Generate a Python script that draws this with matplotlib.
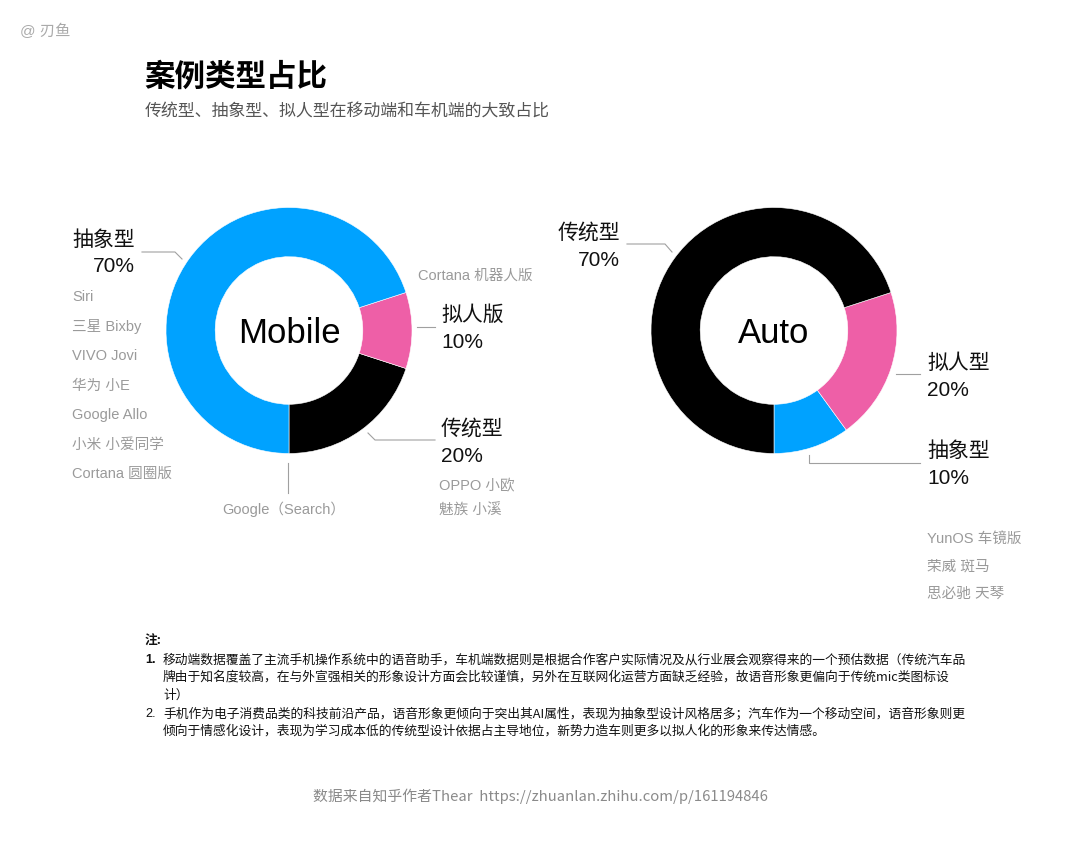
import matplotlib.pyplot as plt

types = ['传统型', '抽象型', '拟人型']
mobile_share = [20, 70, 10]
auto_share = [70, 10, 20]
# wedge order, counter-clockwise starting at 6 o'clock
mobile_order = ['传统型', '拟人型', '抽象型']
auto_order = ['抽象型', '拟人型', '传统型']
mobile_names = ['传统型', '抽象型', '拟人版']
auto_names = ['传统型', '抽象型', '拟人型']

mobile_abstract = ['Siri', '三星 Bixby', 'VIVO Jovi', '华为 小E', 'Google Allo', '小米 小爱同学', 'Cortana 圆圈版']
mobile_human = ['Cortana 机器人版']
mobile_traditional = ['OPPO 小欧', '魅族 小溪']
mobile_bottom = 'Google（Search）'
auto_abstract = ['YunOS 车镜版', '荣威 斑马', '思必驰 天琴']

notes = [
    ('1.', ['移动端数据覆盖了主流手机操作系统中的语音助手，车机端数据则是根据合作客户实际情况及从行业展会观察得来的一个预估数据（传统汽车品',
            '牌由于知名度较高，在与外宣强相关的形象设计方面会比较谨慎，另外在互联网化运营方面缺乏经验，故语音形象更偏向于传统mic类图标设',
            '计）']),
    ('2.', ['手机作为电子消费品类的科技前沿产品，语音形象更倾向于突出其AI属性，表现为抽象型设计风格居多；汽车作为一个移动空间，语音形象则更',
            '倾向于情感化设计，表现为学习成本低的传统型设计依据占主导地位，新势力造车则更多以拟人化的形象来传达情感。']),
]

colors = {'传统型': '#000000', '抽象型': '#00a2ff', '拟人型': '#ee5fa7'}

CJK = ['Noto Sans CJK SC', 'DejaVu Sans']
LAT = ['Liberation Sans', 'Noto Sans CJK SC', 'DejaVu Sans']
plt.rcParams['font.family'] = CJK

W, H = 1080, 844
fig = plt.figure(figsize=(W / 100, H / 100), dpi=100)
fig.patch.set_facecolor('white')

# overlay axes in pixel coordinates (y down)
ax = fig.add_axes([0, 0, 1, 1])
ax.set_xlim(0, W)
ax.set_ylim(H, 0)
ax.axis('off')
ax.patch.set_alpha(0)


def donut(cx, cy, r, shares, order, title):
    pa = fig.add_axes([(cx - r) / W, (H - cy - r) / H, 2 * r / W, 2 * r / H])
    vals = [shares[types.index(t)] for t in order]
    pa.pie(vals, colors=[colors[t] for t in order], startangle=-90, counterclock=True,
           radius=1, wedgeprops=dict(width=0.4, edgecolor='white', linewidth=0.4))
    pa.set_xlim(-1, 1)
    pa.set_ylim(-1, 1)
    pa.axis('off')
    pa.text(0, -0.1, title, ha='center', va='baseline', fontsize=25, family=LAT, color='black')


donut(289, 330.5, 123, mobile_share, mobile_order, 'Mobile')
donut(774, 330.5, 123, auto_share, auto_order, 'Auto')

grey = '#9a9a9a'
line_c = '#a0a0a0'
dark = '#111111'


def big(x, y, name, share, ha):
    ax.text(x, y, name, ha=ha, va='center', fontsize=15, color=dark, family=CJK)
    ax.text(x, y + 27, f'{share}%', ha=ha, va='center', fontsize=15, color=dark, family=LAT)


def small(x, y, s, ha='left'):
    ax.text(x, y, s, ha=ha, va='center', fontsize=10.5, color=grey, family=LAT)


# header
ax.text(20, 31, '@ 刃鱼', ha='left', va='center', fontsize=11, color='#aaaaaa', family=LAT)
ax.text(144, 77, '案例类型占比', ha='left', va='center', fontsize=22, fontweight='bold', color='black')
ax.text(145, 111, '传统型、抽象型、拟人型在移动端和车机端的大致占比', ha='left', va='center',
        fontsize=12.2, color='#555555')

# Mobile labels
big(135, 240, mobile_names[1], mobile_share[1], 'right')
ax.plot([142, 175, 182], [252, 252, 259], color=line_c, lw=0.8)
for i, s in enumerate(mobile_abstract):
    small(72, 297 + i * 29.5, s)

small(418, 276, mobile_human[0])
big(441, 315, mobile_names[2], mobile_share[2], 'left')
ax.plot([417, 435], [327, 327], color=line_c, lw=0.8)

big(441, 429, mobile_names[0], mobile_share[0], 'left')
ax.plot([368, 375, 435], [433, 440, 440], color=line_c, lw=0.8)
for i, s in enumerate(mobile_traditional):
    small(439, 486 + i * 25, s)

ax.plot([288, 288], [463, 493], color=line_c, lw=0.8)
small(284, 509, mobile_bottom, ha='center')

# Auto labels
big(620, 233, auto_names[0], auto_share[0], 'right')
ax.plot([627, 665, 672], [244, 244, 252], color=line_c, lw=0.8)

big(927, 363, auto_names[2], auto_share[2], 'left')
ax.plot([896, 920], [374, 374], color=line_c, lw=0.8)

big(927, 451, auto_names[1], auto_share[1], 'left')
ax.plot([809, 809, 920], [455, 463, 463], color=line_c, lw=0.8)
for i, s in enumerate(auto_abstract):
    small(927, 539 + i * 27.5, s)

# notes
ax.text(145, 641, '注:', ha='left', va='center', fontsize=9.2, fontweight='bold', color=dark)
y = 660
for num, lines in notes:
    ax.text(145, y, num, ha='left', va='center', fontsize=9.2,
            fontweight='bold' if num == '1.' else 'normal', color=dark, family=LAT)
    for ln in lines:
        ax.text(163, y, ln, ha='left', va='center', fontsize=9.2, color=dark)
        y += 17.5
    y += 1.5

# footer
ax.text(540, 796, '数据来自知乎作者Thear  https://zhuanlan.zhihu.com/p/161194846', ha='center',
        va='center', fontsize=10.7, color='#8a8a8a')

fig.savefig('out.png', dpi=100, facecolor='white')
